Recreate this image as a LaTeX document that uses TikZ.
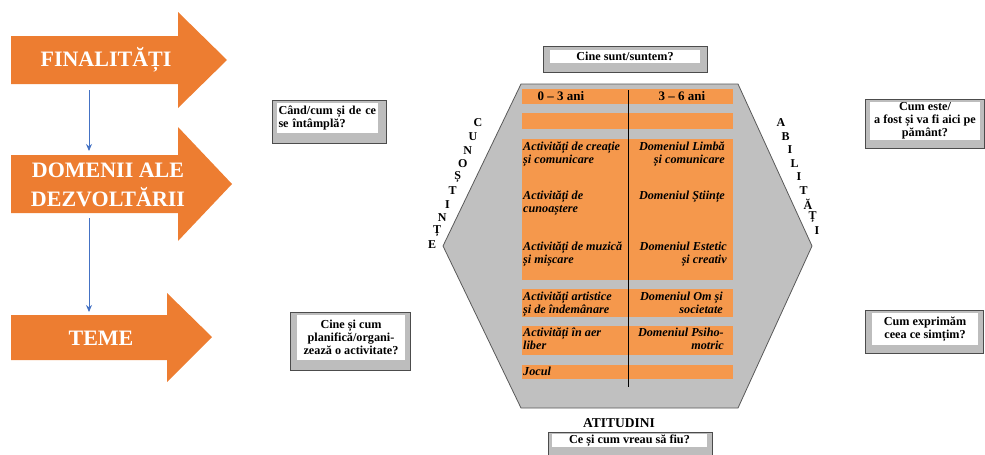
\documentclass[tikz,border=0pt]{standalone}
\usepackage{fontspec}
\setmainfont{Liberation Serif}
\usetikzlibrary{arrows.meta}

\definecolor{arroworange}{HTML}{ED7D31}
\definecolor{roworange}{HTML}{F5984C}
\definecolor{hexgray}{HTML}{C0C0C0}
\definecolor{framegray}{HTML}{BDBDBD}
\definecolor{linkblue}{HTML}{4472C4}

\begin{document}
\begin{tikzpicture}[x=1pt, y=-1pt, >=Stealth,
    bigarrow/.style={fill=arroworange},
    arrowtext/.style={text=white, align=center, inner sep=0,
        font=\fontsize{22}{29}\selectfont\bfseries},
    link/.style={->, linkblue, line width=0.9pt, >={Stealth[length=7pt, width=6pt]}},
    qframe/.style={fill=framegray, draw=black!70, line width=0.6pt},
    qtext/.style={fill=white, inner sep=0, align=center,
        font=\fontsize{12.2}{12.8}\selectfont\bfseries},
    rowtext/.style={inner sep=0, align=left,
        font=\fontsize{12.2}{12.6}\selectfont\bfseries\itshape},
    domtext/.style={inner sep=0, align=right,
        font=\fontsize{12.2}{12.6}\selectfont\bfseries\itshape},
    edgeletter/.style={inner sep=0, font=\fontsize{12}{12}\selectfont\bfseries}]
    \useasboundingbox (0,0) rectangle (985,455);

    % sagetile portocalii din stanga
    \fill[bigarrow] (11,36) -- (178,36) -- (178,12) -- (227,60) -- (178,108) -- (178,84) -- (11,84) -- cycle;
    \node[arrowtext] (fin) at (106,60) {FINALITĂȚI};
    \fill[bigarrow] (11,155) -- (178,155) -- (178,127) -- (232,184) -- (178,241) -- (178,213) -- (11,213) -- cycle;
    \node[arrowtext] (dom) at (108,185) {DOMENII ALE\\DEZVOLTĂRII};
    \fill[bigarrow] (11,315) -- (167,315) -- (167,293) -- (212,337) -- (167,382) -- (167,360) -- (11,360) -- cycle;
    \node[arrowtext] (teme) at (101,338) {TEME};

    % legaturi albastre
    \coordinate (fin-out) at (89,90);
    \coordinate (dom-in) at (89,151);
    \coordinate (dom-out) at (89,218);
    \coordinate (teme-in) at (89,312);
    \draw[link] (fin-out) -- (dom-in);
    \draw[link] (dom-out) -- (teme-in);

    % hexagonul
    \filldraw[fill=hexgray, draw=black!65, line width=0.8pt]
        (521,84) -- (738,84) -- (812,246) -- (738,408) -- (521,408) -- (443,246) -- cycle;

    % benzile portocalii
    \fill[roworange] (522,89) rectangle (733,104);
    \fill[roworange] (522,113) rectangle (733,129);
    \fill[roworange] (522,139) rectangle (733,280);
    \fill[roworange] (522,289) rectangle (733,317);
    \fill[roworange] (522,326) rectangle (733,355);
    \fill[roworange] (522,365) rectangle (733,379);
    \draw[line width=0.7pt] (628,90) -- (628,387);

    % varste
    \node[font=\fontsize{13}{13}\selectfont\bfseries, inner sep=0] (age1) at (561,96.5) {0 – 3 ani};
    \node[font=\fontsize{13}{13}\selectfont\bfseries, inner sep=0] (age2) at (682,96.5) {3 – 6 ani};

    % activitati 0-3 ani
    \node[rowtext, anchor=north west] (act1) at (523,142) {Activități de creație\\și comunicare};
    \node[rowtext, anchor=north west] (act2) at (523,191) {Activități de\\cunoaștere};
    \node[rowtext, anchor=north west] (act3) at (523,242) {Activități de muzică\\și mișcare};
    \node[rowtext, anchor=north west] (act4) at (523,292) {Activități artistice\\și de îndemânare};
    \node[rowtext, anchor=north west] (act5) at (523,328) {Activități în aer\\liber};
    \node[rowtext, anchor=north west] (act6) at (523,367) {Jocul};

    % domenii 3-6 ani
    \node[domtext, anchor=north east] (dom1) at (725,142) {Domeniul Limbă\\și comunicare};
    \node[domtext, anchor=north east] (dom2) at (725,191) {Domeniul Științe};
    \node[domtext, anchor=north east] (dom3) at (727,242) {Domeniul Estetic\\și creativ};
    \node[domtext, anchor=north east] (dom4) at (723,292) {Domeniul Om și\\societate};
    \node[domtext, anchor=north east] (dom5) at (724,328) {Domeniul Psiho-\\motric};

    % literele de pe laturi
    \foreach \l [count=\i from 0] in {C,U,N,O,Ș,T,I,N,Ț,E}
        \node[edgeletter] (cun\i) at ({478-5.1*\i},{123+13.55*\i}) {\l};
    \foreach \l [count=\i from 0] in {A,B,I,L,I,T,Ă,Ț,I}
        \node[edgeletter] (abi\i) at ({781+4.5*\i},{123+13.5*\i}) {\l};
    \node[edgeletter, font=\fontsize{13.5}{14}\selectfont\bfseries] (atit) at (619,423) {ATITUDINI};

    % casetele cu intrebari
    \filldraw[qframe] (543,46) rectangle (707,72);
    \node[qtext, minimum width=150, minimum height=13] (qwho) at (625,56.5) {Cine sunt/suntem?};

    \filldraw[qframe] (272,100) rectangle (386,143);
    \node[qtext, align=left, text width=98, minimum height=30, inner xsep=1.5] (qwhen) at (327.5,118) {Când/cum și de ce\\se întâmplă?};

    \filldraw[qframe] (865,99) rectangle (984,148);
    \node[qtext, minimum width=110, minimum height=38] (qearth) at (925,121) {Cum este/\\a fost și va fi aici pe\\pământ?};

    \filldraw[qframe] (290,312) rectangle (410,370);
    \node[qtext, minimum width=108, minimum height=45] (qplan) at (351,337.5) {Cine și cum\\planifică/organi-\\zează o activitate?};

    \filldraw[qframe] (865,310) rectangle (983,353);
    \node[qtext, minimum width=106, minimum height=32] (qfeel) at (925,329) {Cum exprimăm\\ceea ce simțim?};

    \filldraw[qframe] (548,432) rectangle (712,460);
    \node[qtext, minimum width=155, minimum height=13] (qbe) at (629.5,440.5) {Ce și cum vreau să fiu?};
\end{tikzpicture}
\end{document}
